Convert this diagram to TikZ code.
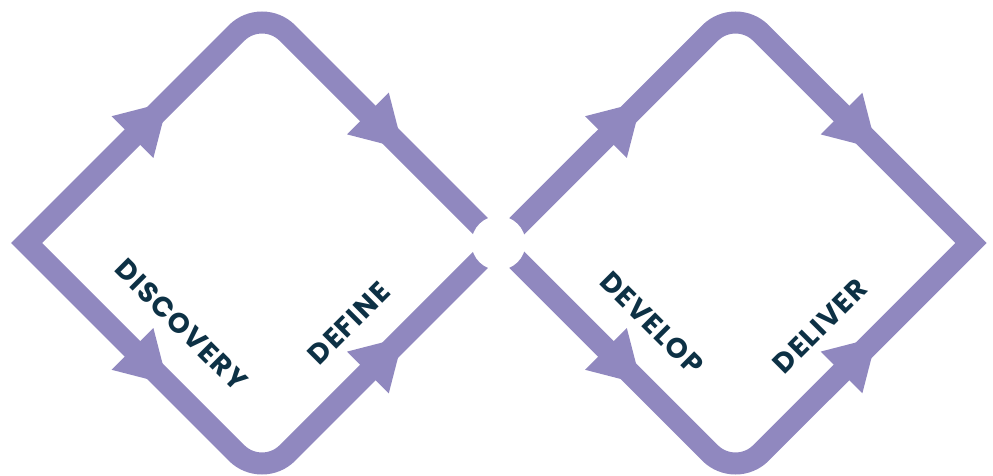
\documentclass[tikz,border=0pt]{standalone}
\usepackage{fontspec}
\setmainfont{Poppins}
\usepackage{tikz}
\usetikzlibrary{calc}

\definecolor{loopviolet}{HTML}{9088BF}
\definecolor{labelnavy}{HTML}{0D3145}

\tikzset{
    loopline/.style={draw=loopviolet, line width=22pt, line join=miter},
    flowhead/.pic={\fill[loopviolet] (0,-29.5) -- (50,0) -- (0,29.5) -- cycle;},
    phase/.style={text=labelnavy, inner sep=0pt,
        font=\bfseries\fontsize{28}{28}\selectfont\addfontfeature{LetterSpace=5}}
}

\begin{document}
\begin{tikzpicture}[x=1pt,y=1pt]
        \useasboundingbox (0,0) rectangle (993,475);
        \def\rr{36}

        % The diamond corners
        \coordinate (l1) at (26.6,232);
        \coordinate (t1) at (262,467.4);
        \coordinate (r1) at (497.4,232);
        \coordinate (b1) at (262,-3.4);

        \coordinate (l2) at (500,232);
        \coordinate (t2) at (735.5,467.4);
        \coordinate (r2) at (971,232);
        \coordinate (b2) at (735.5,-3.4);

        % The left diamond
        \draw[loopline] (l1) -- ($(t1)+(-135:\rr)$) arc[start angle=135, end angle=45, radius=\rr]
            -- (r1) -- ($(b1)+(45:\rr)$) arc[start angle=-45, end angle=-135, radius=\rr] -- cycle;

        % The right diamond
        \draw[loopline] (l2) -- ($(t2)+(-135:\rr)$) arc[start angle=135, end angle=45, radius=\rr]
            -- (r2) -- ($(b2)+(45:\rr)$) arc[start angle=-45, end angle=-135, radius=\rr] -- cycle;

        % The gap in the middle
        \fill[white] (498.5,232) circle (27);

        % Arrow heads, left diamond
        \pic[rotate=45] at ($(l1)!0.45!(t1)$) {flowhead};
        \pic[rotate=-45] at ($(t1)!0.45!(r1)$) {flowhead};
        \pic[rotate=-45] at ($(l1)!0.45!(b1)$) {flowhead};
        \pic[rotate=45] at ($(b1)!0.45!(r1)$) {flowhead};

        % Arrow heads, right diamond
        \pic[rotate=45] at ($(l2)!0.45!(t2)$) {flowhead};
        \pic[rotate=-45] at ($(t2)!0.45!(r2)$) {flowhead};
        \pic[rotate=-45] at ($(l2)!0.45!(b2)$) {flowhead};
        \pic[rotate=45] at ($(b2)!0.45!(r2)$) {flowhead};

        % The phase words
        \node[phase, rotate=-45] (discovery) at (181.5,150) {DISCOVERY};
        \node[phase, rotate=45] (define) at (349,152) {DEFINE};
        \node[phase, rotate=-45] (develop) at (652,152) {DEVELOP};
        \node[phase, rotate=45] (deliver) at (820,149) {DELIVER};

    \end{tikzpicture}
\end{document}
